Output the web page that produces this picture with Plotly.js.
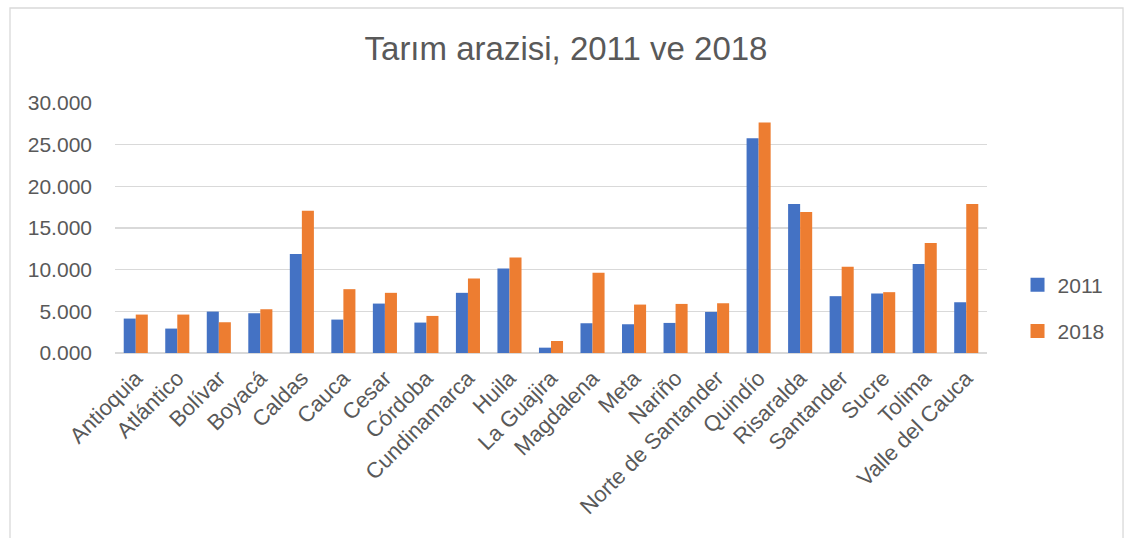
<!DOCTYPE html>
<html>
<head>
<meta charset="utf-8">
<script src="https://cdn.plot.ly/plotly-3.0.1.min.js"></script>
<style>html,body{margin:0;padding:0;background:#fff;}#chart{width:1132px;height:538px;}</style>
</head>
<body>
<div id="chart"></div>
<script>
const categories = ["Antioquia","Atlántico","Bolívar","Boyacá","Caldas","Cauca","Cesar","Córdoba","Cundinamarca","Huila","La Guajira","Magdalena","Meta","Nariño","Norte de Santander","Quindío","Risaralda","Santander","Sucre","Tolima","Valle del Cauca"];
const values2011 = [4.13,2.93,4.97,4.77,11.87,4.01,5.93,3.65,7.22,10.14,0.64,3.57,3.45,3.61,4.93,25.78,17.88,6.82,7.14,10.67,6.09];
const values2018 = [4.61,4.61,3.69,5.25,17.08,7.66,7.22,4.45,8.94,11.47,1.44,9.62,5.81,5.89,5.97,27.67,16.92,10.34,7.30,13.19,17.88];
const seriesNames = ['2011','2018'];
const seriesColors = ['#4472C4','#ED7D31'];
const yTicks = [0,5,10,15,20,25,30];

const font = "Liberation Sans, Arial, sans-serif";
const traces = [
  {type:'bar', name:seriesNames[0], x:categories, y:values2011, marker:{color:seriesColors[0]}, showlegend:false},
  {type:'bar', name:seriesNames[1], x:categories, y:values2018, marker:{color:seriesColors[1]}, showlegend:false}
];
// legend entries with square swatches
seriesNames.forEach((n,i)=>{
  traces.push({type:'scatter', mode:'markers', name:n, x:[categories[0]], y:[null], marker:{symbol:'square', size:14, color:seriesColors[i]}, legendgroup:'g'+i, showlegend:true, hoverinfo:'skip'});
});
const layout = {
  width:1132, height:538,
  margin:{l:115, r:145, t:103, b:185},
  paper_bgcolor:'#fff', plot_bgcolor:'#fff',
  title:{text:'Tarım arazisi, 2011 ve 2018', x:0.5, xref:'container', xanchor:'center', y:0.91, yanchor:'middle', yref:'container', font:{family:font, size:33, color:'#595959'}},
  bargap:0.42, bargroupgap:0, barmode:'group',
  xaxis:{range:[-0.5, categories.length-0.5], tickangle:-45, ticklabelstandoff:7, tickfont:{family:font, size:22, color:'#595959'}, showgrid:false, showline:false, ticks:'', automargin:false},
  yaxis:{range:[0,30], tickvals:yTicks, tickformat:'.3f', ticklabelstandoff:22, tickfont:{family:font, size:21, color:'#595959'}, gridcolor:'#d9d9d9', gridwidth:1.5, zeroline:true, zerolinecolor:'#d9d9d9', zerolinewidth:1.5, showline:false, ticks:'', automargin:false},
  showlegend:true,
  legend:{x:1.035, xanchor:'left', y:0.18, yanchor:'middle', traceorder:'grouped', tracegroupgap:16, itemwidth:30, font:{family:font, size:21, color:'#595959'}, bgcolor:'rgba(0,0,0,0)'},
  shapes:[{type:'rect', xref:'paper', yref:'paper', x0:-0.1204, x1:1.156, y0:-0.9, y1:1.38, line:{color:'#d9d9d9', width:1.3}, fillcolor:'rgba(0,0,0,0)', layer:'below'}]
};
Plotly.newPlot('chart', traces, layout, {displayModeBar:false, staticPlot:true});
</script>
</body>
</html>
